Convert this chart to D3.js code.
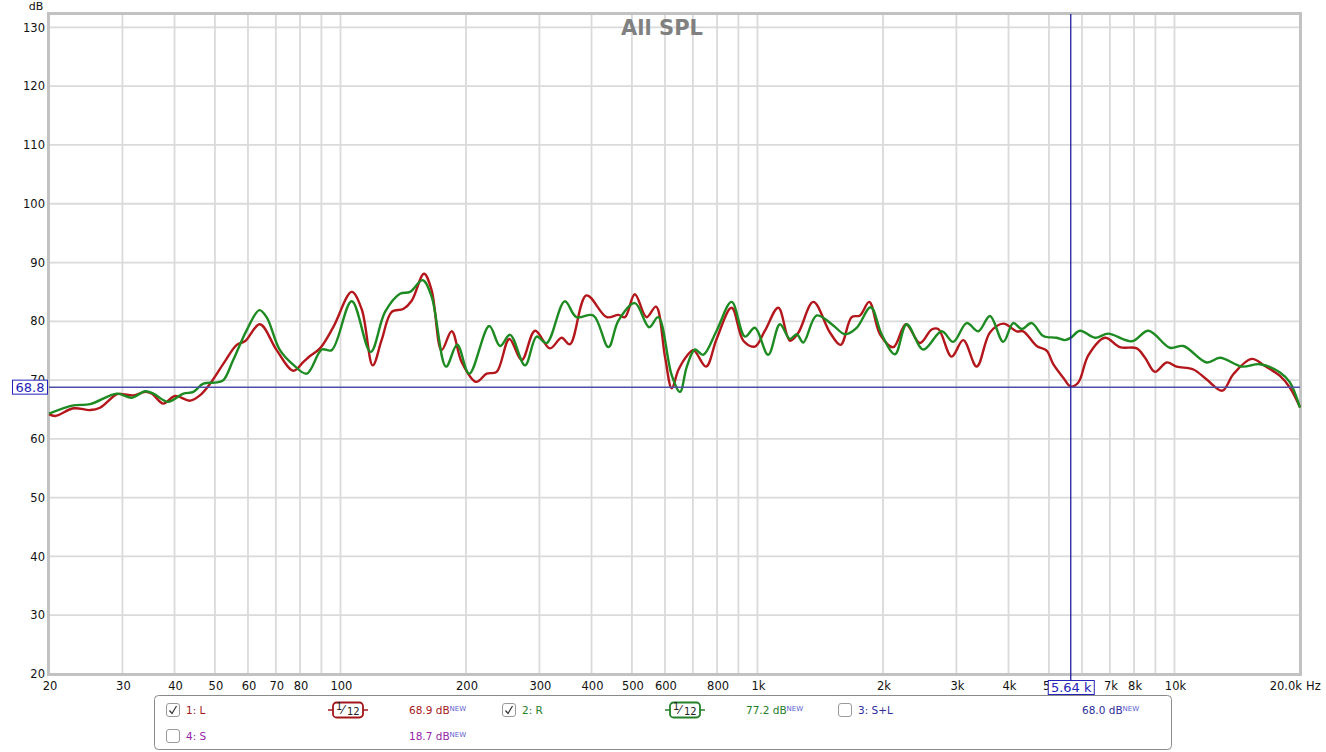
<!DOCTYPE html>
<html>
<head>
<meta charset="utf-8">
<script src="https://cdn.jsdelivr.net/npm/d3@7"></script>
<style>
  html, body { margin: 0; padding: 0; background: #fff; }
  svg { display: block; font-family: "DejaVu Sans", sans-serif; }
</style>
</head>
<body>
<svg id="chart" width="1326" height="752"></svg>
<script>
// Trace 1: L  (frequency in Hz, SPL in dB)
const freqL = [20, 20.7, 22.9, 25.1, 26.5, 29.1, 30.1, 31.9, 34.0, 35.3, 37.6, 40.1, 43.6, 46.0, 48.7,
  52.4, 56.4, 59.0, 64.1, 70.3, 77.1, 81.5, 84.5, 89.3, 96.1, 106.4, 112.4, 119.5, 125.5, 132.7,
  141.4, 148.2, 158.6, 165.4, 174.8, 184.8, 195.2, 211.4, 224.2, 236.9, 254.1, 272, 292.8, 318,
  339, 355, 389, 435, 464, 481, 508, 542, 571, 600, 623, 646, 677, 702, 753, 798, 867, 925, 986,
  1042, 1122, 1196, 1252, 1361, 1492, 1583, 1682, 1761, 1854, 1967, 2117, 2270, 2453, 2616, 2714,
  2922, 3115, 3355, 3610, 3886, 4184, 4339, 4673, 4937, 5121, 5412, 5640, 5880, 6214, 6810, 7400,
  8120, 8500, 8980, 9580, 10120, 11100, 11950, 13020, 13840, 15310, 16480, 17910, 18920, 20000];
const splL = [64.2, 63.9, 65.2, 64.9, 65.3, 67.6, 67.6, 67.4, 68.0, 67.7, 66.0, 67.3, 66.5, 67.4, 69.4,
  72.8, 76.0, 76.6, 79.5, 75.1, 71.6, 73.1, 74.1, 75.4, 79.0, 85.0, 82.1, 72.5, 76.8, 81.6,
  82.1, 83.5, 88.1, 85.3, 75.1, 78.3, 73.1, 69.7, 71.1, 71.4, 77.0, 73.4, 78.4, 75.4,
  77.2, 76.1, 84.4, 80.7, 81.1, 80.7, 84.6, 80.7, 82.5, 74.0, 68.6, 71.7, 74.1, 75.1, 72.3, 77.0, 82.3, 76.7, 75.7,
  78.4, 82.3, 76.7, 78.0, 83.3, 78.1, 76.0, 80.7, 81.0, 83.3, 77.8, 75.6, 79.5, 76.3, 78.6, 78.7,
  74.0, 76.8, 72.3, 78.1, 79.6, 78.3, 78.3, 75.8, 75.0, 72.7, 70.4, 68.9, 69.6, 74.2, 77.2, 75.6,
  75.4, 73.8, 71.4, 73.0, 72.3, 71.8, 70.1, 68.2, 71.0, 73.6, 72.4, 70.7, 68.7, 65.4];

// Trace 2: R
const freqR = [20, 22.9, 25.1, 29.1, 31.6, 34.0, 35.6, 38.6, 42.0, 44.4, 46.9, 50.5, 52.4, 55.3, 59.6,
  63.9, 66.5, 71.6, 77.1, 83.0, 90.2, 95.3, 106.4, 118.1, 127.9, 138.9, 146.8, 157.4, 165.4, 179.1,
  190.5, 203.6, 227.4, 241.3, 255.1, 277, 295.5, 312.2, 345, 368, 404, 439, 464, 508, 550, 578,
  623, 652, 677, 708, 741, 798, 867, 933, 986, 1061, 1132, 1196, 1242, 1288, 1387, 1520, 1621,
  1729, 1869, 1985, 2137, 2279, 2498, 2765, 2948, 3175, 3385, 3610, 3886, 4106, 4301, 4546, 4847,
  5218, 5463, 5640, 5935, 6449, 6935, 7900, 8660, 9750, 10500, 11950, 12860, 14500, 16030, 17910,
  18920, 20000];
const splR = [64.3, 65.7, 65.9, 67.7, 67.0, 68.1, 67.7, 66.3, 67.7, 68.0, 69.4, 69.6, 70.0, 73.4, 78.5,
  81.9, 80.7, 75.1, 72.6, 71.1, 75.2, 75.1, 83.4, 74.8, 81.6, 84.7, 85.0, 87.0, 84.2, 72.3,
  76.0, 71.1, 79.2, 75.8, 77.7, 72.5, 77.4, 76.3, 83.4, 80.7, 81.0, 75.6, 80.1, 83.1, 79.0, 80.7,
  70.8, 68.0, 72.3, 75.2, 74.3, 78.4, 83.3, 77.4, 78.9, 74.3, 79.5, 77.0, 77.8, 76.4, 81.0, 79.3, 77.8,
  78.9, 82.4, 77.8, 74.4, 79.5, 75.2, 78.3, 76.5, 79.7, 78.3, 80.9, 76.5, 79.7, 78.7, 79.7, 77.5,
  77.2, 76.8, 77.2, 78.4, 77.2, 77.9, 76.6, 78.4, 75.5, 75.8, 73.0, 73.8, 72.3, 72.7, 71.3,
  69.6, 65.3];

const yTicks = [20, 30, 40, 50, 60, 70, 80, 90, 100, 110, 120, 130];
const xTickValues = [20, 30, 40, 50, 60, 70, 80, 100, 200, 300, 400, 500, 600, 800,
  1000, 2000, 3000, 4000, 5000, 7000, 8000, 10000, 20000];

const cursorFreq = 5640;
const cursorLevel = 68.8;

// legend rows: name, colour, shown, smoothing, value at cursor
const legendNames = ["1: L", "2: R", "3: S+L", "4: S"];
const legendColors = ["#a3171b", "#24802a", "#2e2e9c", "#9526a8"];
const legendChecked = [true, true, false, false];
const legendSmooth = [true, true, false, false];
const legendValues = ["68.9 dB", "77.2 dB", "68.0 dB", "18.7 dB"];

const pLeft = 49, pRight = 1300, pTop = 14, pBottom = 674;

const svg = d3.select("#chart");

const x = d3.scaleLog().domain([20, 20000]).range([pLeft, pRight]);
const y = d3.scaleLinear().domain([20, 130]).range([pBottom, 27.4]);

// grid
const grid = svg.append("g").attr("stroke", "#dadada").attr("stroke-width", 1.8);
grid.selectAll("line.v")
  .data(x.ticks().filter(d => d > 20 && d < 20000))
  .join("line")
    .attr("class", "v")
    .attr("x1", d => x(d)).attr("x2", d => x(d))
    .attr("y1", pTop).attr("y2", pBottom);
grid.selectAll("line.h")
  .data(yTicks.filter(d => d > 20))
  .join("line")
    .attr("class", "h")
    .attr("x1", pLeft).attr("x2", pRight)
    .attr("y1", d => y(d)).attr("y2", d => y(d));

// frame
svg.append("rect")
  .attr("x", pLeft - 0.5).attr("y", pTop - 0.5)
  .attr("width", pRight - pLeft + 1).attr("height", pBottom - pTop + 1)
  .attr("fill", "none").attr("stroke", "#c2c2c2").attr("stroke-width", 3);

// title
svg.append("text")
  .attr("x", 662).attr("y", 35)
  .attr("text-anchor", "middle")
  .attr("font-size", 21).attr("font-weight", "bold")
  .attr("fill", "#808080")
  .text("All SPL");

// y axis labels
svg.append("g")
  .attr("font-size", 11.5).attr("fill", "#111")
  .selectAll("text")
  .data(yTicks)
  .join("text")
    .attr("x", pLeft - 4)
    .attr("y", d => y(d))
    .attr("dy", "0.36em")
    .attr("text-anchor", "end")
    .text(d => d);
svg.append("text")
  .attr("x", 36).attr("y", 10)
  .attr("text-anchor", "middle")
  .attr("font-size", 11).attr("fill", "#111")
  .text("dB");

// x axis labels
const fmtHz = d => d === 20000 ? "20.0k" : d >= 1000 ? (d / 1000) + "k" : d;
svg.append("g")
  .attr("font-size", 11.5).attr("fill", "#111")
  .selectAll("text")
  .data(xTickValues)
  .join("text")
    .attr("x", d => d === 20000 ? x(d) + 2 : x(d) + 1)
    .attr("y", 690)
    .attr("text-anchor", d => d === 20000 ? "end" : "middle")
    .text(fmtHz);
svg.append("text")
  .attr("x", x(20000) + 6).attr("y", 690)
  .attr("font-size", 11.5).attr("fill", "#111")
  .text("Hz");

// traces
const line = d3.line()
  .x(d => x(d[0]))
  .y(d => y(d[1]))
  .curve(d3.curveCatmullRom.alpha(0.5));

const traceL = d3.zip(freqL, splL);
const traceR = d3.zip(freqR, splR);

svg.append("path")
  .datum(traceL)
  .attr("fill", "none")
  .attr("stroke", "#b3161b")
  .attr("stroke-width", 2.4)
  .attr("stroke-linejoin", "round")
  .attr("d", line);

svg.append("path")
  .datum(traceR)
  .attr("fill", "none")
  .attr("stroke", "#1d8a22")
  .attr("stroke-width", 2.4)
  .attr("stroke-linejoin", "round")
  .attr("d", line);

// cursor
svg.append("line")
  .attr("x1", pLeft).attr("x2", pRight)
  .attr("y1", y(cursorLevel)).attr("y2", y(cursorLevel))
  .attr("stroke", "#4e4ea6").attr("stroke-width", 1.5);
svg.append("line")
  .attr("x1", x(cursorFreq)).attr("x2", x(cursorFreq))
  .attr("y1", pTop).attr("y2", 681)
  .attr("stroke", "#1f1f9c").attr("stroke-width", 1.3);

const curLab = svg.append("g").attr("font-size", 13).attr("fill", "#2323b8");
curLab.append("rect")
  .attr("x", 12.5).attr("y", y(cursorLevel) - 7)
  .attr("width", 35).attr("height", 14)
  .attr("fill", "#fff").attr("stroke", "#2323b8").attr("stroke-width", 1);
curLab.append("text")
  .attr("x", 30).attr("y", y(cursorLevel))
  .attr("dy", "0.36em").attr("text-anchor", "middle")
  .text(cursorLevel.toFixed(1));
curLab.append("rect")
  .attr("x", x(cursorFreq) - 22.5).attr("y", 680.5)
  .attr("width", 46).attr("height", 14)
  .attr("fill", "#fff").attr("stroke", "#2323b8").attr("stroke-width", 1);
curLab.append("text")
  .attr("x", x(cursorFreq) + 0.5).attr("y", 687.5)
  .attr("dy", "0.36em").attr("text-anchor", "middle")
  .text((cursorFreq / 1000).toFixed(2) + " k");

// legend
const legend = svg.append("g").attr("font-size", 10.5);
legend.append("rect")
  .attr("x", 154.5).attr("y", 695.5)
  .attr("width", 1017).attr("height", 54)
  .attr("rx", 4)
  .attr("fill", "#fff").attr("stroke", "#8a8a8a").attr("stroke-width", 1);

const colX = [166, 502, 838, 166];
const rowIdx = [0, 0, 0, 1];
const valueX = [409, 746, 1082, 409];
const smoothX = [348, 685];
const slots = [0, 1, 2, 3];
const itemRowY = slots.map(i => rowIdx[i] === 0 ? 710 : 736);

const item = legend.selectAll("g.item")
  .data(slots)
  .join("g")
    .attr("class", "item")
    .attr("transform", i => `translate(0,${itemRowY[i]})`);

item.append("rect")
  .attr("x", i => colX[i] + 0.5).attr("y", -6.5)
  .attr("width", 13).attr("height", 13).attr("rx", 2.5)
  .attr("fill", "#fff").attr("stroke", "#9a9a9a").attr("stroke-width", 1);
item.filter(i => legendChecked[i]).append("path")
  .attr("d", i => `M${colX[i] + 3.5},${0.5} L${colX[i] + 6},${3.5} L${colX[i] + 10.5},${-4}`)
  .attr("fill", "none").attr("stroke", "#333").attr("stroke-width", 1.2);
item.append("text")
  .attr("x", i => colX[i] + 20).attr("dy", "0.36em")
  .attr("fill", i => legendColors[i])
  .text(i => legendNames[i]);

const val = item.append("text")
  .attr("x", i => valueX[i]).attr("dy", "0.36em")
  .attr("fill", i => legendColors[i]);
val.append("tspan").text(i => legendValues[i]);
val.append("tspan")
  .attr("dy", "-0.45em").attr("font-size", 7).attr("fill", "#5a5ad0")
  .text("NEW");

// smoothing symbols
const sm = item.filter(i => legendSmooth[i]).append("g")
  .attr("transform", i => `translate(${smoothX[i]},0)`)
  .attr("stroke", i => legendColors[i]);
sm.append("line").attr("x1", -20).attr("x2", -15).attr("stroke-width", 1.5);
sm.append("line").attr("x1", 15).attr("x2", 20).attr("stroke-width", 1.5);
sm.append("rect")
  .attr("x", -15).attr("y", -7.5).attr("width", 30).attr("height", 15).attr("rx", 3.5)
  .attr("fill", "#fff").attr("stroke-width", 1.8);
const frac = sm.append("text")
  .attr("stroke", "none").attr("fill", "#222")
  .attr("font-size", 10);
frac.append("tspan").attr("x", -12).attr("y", 0).text("1");
frac.append("tspan").attr("x", -6).attr("y", 4).attr("font-size", 12).text("⁄");
frac.append("tspan").attr("x", -1).attr("y", 5).text("12");
</script>
</body>
</html>
